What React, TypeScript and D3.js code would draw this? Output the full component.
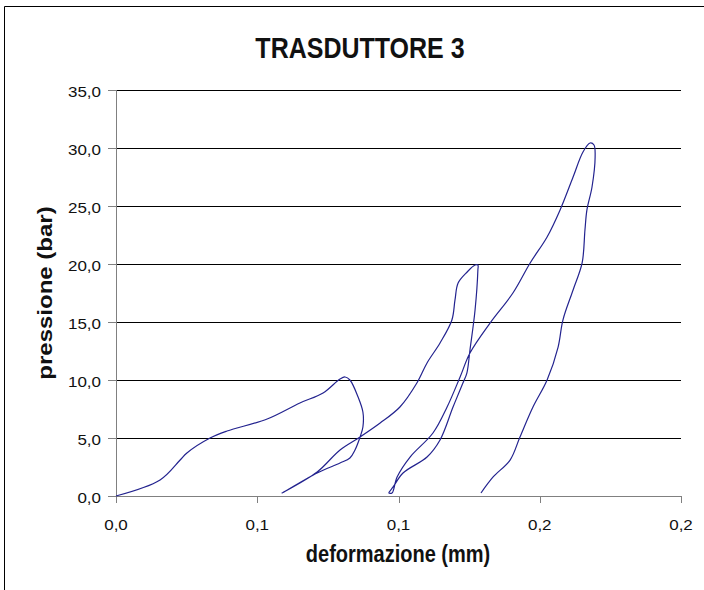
import React from "react";
import * as d3 from "d3";

const title = "TRASDUTTORE 3";
const xAxisTitle = "deformazione (mm)";
const yAxisTitle = "pressione (bar)";

const xTicks = [0, 0.05, 0.1, 0.15, 0.2];
const xTickLabels = ["0,0", "0,1", "0,1", "0,2", "0,2"];
const yTicks = [0, 5, 10, 15, 20, 25, 30, 35];
const yTickLabels = ["0,0", "5,0", "10,0", "15,0", "20,0", "25,0", "30,0", "35,0"];

const deformazione = [
  0, 0.0156, 0.0227, 0.0251, 0.0333, 0.0393, 0.0535, 0.0651, 0.0733, 0.0793,
  0.0811, 0.0828, 0.0857, 0.0874, 0.0874, 0.0864, 0.0846, 0.0828, 0.0793, 0.0712,
  0.0588, 0.0712, 0.0793, 0.0864, 0.0935, 0.1005, 0.1065, 0.1101, 0.1147, 0.1189,
  0.12, 0.1211, 0.1243, 0.1271, 0.1281, 0.1281, 0.1271, 0.1253, 0.1242, 0.1228,
  0.1193, 0.1147, 0.1101, 0.1016, 0.0981, 0.0966, 0.0977, 0.0995, 0.1041, 0.1122,
  0.1172, 0.1218, 0.1253, 0.1324, 0.1405, 0.1466, 0.1526, 0.1572, 0.1618, 0.1653,
  0.1678, 0.1692, 0.1696, 0.1685, 0.1667, 0.166, 0.165, 0.1618, 0.1582, 0.1565,
  0.1526, 0.1476, 0.143, 0.1395, 0.1335, 0.1292,
];

const pressione = [
  0, 1.38, 3.1, 3.71, 5.0, 5.6, 6.64, 8.02, 8.88, 10.09,
  10.26, 10.0, 8.53, 7.24, 5.95, 5.09, 3.97, 3.28, 2.84, 1.98,
  0.26, 2.07, 3.97, 5.09, 6.29, 7.67, 9.74, 11.47, 13.19, 15.17,
  16.9, 18.36, 19.31, 19.91, 19.91, 19.48, 16.03, 12.59, 10.6, 9.74,
  7.67, 4.83, 3.36, 1.98, 0.78, 0.26, 0.26, 1.64, 3.36, 5.43,
  7.67, 10.26, 12.33, 14.91, 17.5, 20.09, 22.33, 24.66, 27.5, 29.66,
  30.43, 30.26, 29.22, 26.64, 24.66, 22.93, 20.09, 17.76, 15.17, 12.84,
  10.0, 7.67, 5.09, 3.1, 1.64, 0.26,
];

export default function App() {
  const W = 704;
  const H = 590;
  const left = 116;
  const right = 681;
  const top = 90;
  const bottom = 496;

  const x = d3.scaleLinear().domain([0, 0.2]).range([left, right]);
  const y = d3.scaleLinear().domain([0, 35]).range([bottom, top]);

  const pts: [number, number][] = deformazione.map((d, i) => [d, pressione[i]]);
  const line = d3
    .line<[number, number]>()
    .x((d) => x(d[0]))
    .y((d) => y(d[1]))
    .curve(d3.curveCatmullRom.alpha(0.5));

  const font = "'Liberation Sans', Arial, sans-serif";

  return (
    <svg
      width={W}
      height={H}
      style={{ position: "absolute", left: 0, top: 0, background: "#fff" }}
      fontFamily={font}
    >
      <rect x={0} y={0} width={W} height={H} fill="#fff" />
      <line x1={4.5} y1={6.5} x2={W} y2={6.5} stroke="#000" strokeWidth={1} />
      <line x1={4.5} y1={6.5} x2={4.5} y2={H} stroke="#000" strokeWidth={1} />

      <text
        transform="translate(360,58) scale(1,1.2)"
        textAnchor="middle"
        fontSize={25}
        fontWeight="bold"
        fill="#111"
      >
        {title}
      </text>

      {yTicks.map((t) =>
        t === 0 ? null : (
          <line
            key={"g" + t}
            x1={left}
            x2={right}
            y1={Math.round(y(t)) + 0.5}
            y2={Math.round(y(t)) + 0.5}
            stroke="#000"
            strokeWidth={1}
          />
        )
      )}

      <line x1={left + 0.5} x2={left + 0.5} y1={top} y2={bottom} stroke="#808080" />
      <line x1={left} x2={right} y1={bottom + 0.5} y2={bottom + 0.5} stroke="#808080" />

      {yTicks.map((t, i) => (
        <g key={"y" + t}>
          <line
            x1={left - 8}
            x2={left}
            y1={Math.round(y(t)) + 0.5}
            y2={Math.round(y(t)) + 0.5}
            stroke="#808080"
          />
          <text
            transform={`translate(${left - 15},${y(t) + 7}) scale(1,0.9)`}
            textAnchor="end"
            fontSize={17}
            fill="#111"
          >
            {yTickLabels[i]}
          </text>
        </g>
      ))}

      {xTicks.map((t, i) => (
        <g key={"x" + t}>
          <line
            x1={Math.round(x(t)) + 0.5}
            x2={Math.round(x(t)) + 0.5}
            y1={bottom}
            y2={bottom + 7}
            stroke="#808080"
          />
          <text
            transform={`translate(${x(t)},530) scale(1,0.9)`}
            textAnchor="middle"
            fontSize={17}
            fill="#111"
          >
            {xTickLabels[i]}
          </text>
        </g>
      ))}

      <path d={line(pts) || ""} fill="none" stroke="#23238f" strokeWidth={1.2} />

      <text
        transform="translate(398,562) scale(1,1.2)"
        textAnchor="middle"
        fontSize={20}
        fontWeight="bold"
        fill="#111"
      >
        {xAxisTitle}
      </text>
      <text
        transform={`translate(52,293) rotate(-90) scale(1.2,1)`}
        textAnchor="middle"
        fontSize={20}
        fontWeight="bold"
        fill="#111"
      >
        {yAxisTitle}
      </text>
    </svg>
  );
}
